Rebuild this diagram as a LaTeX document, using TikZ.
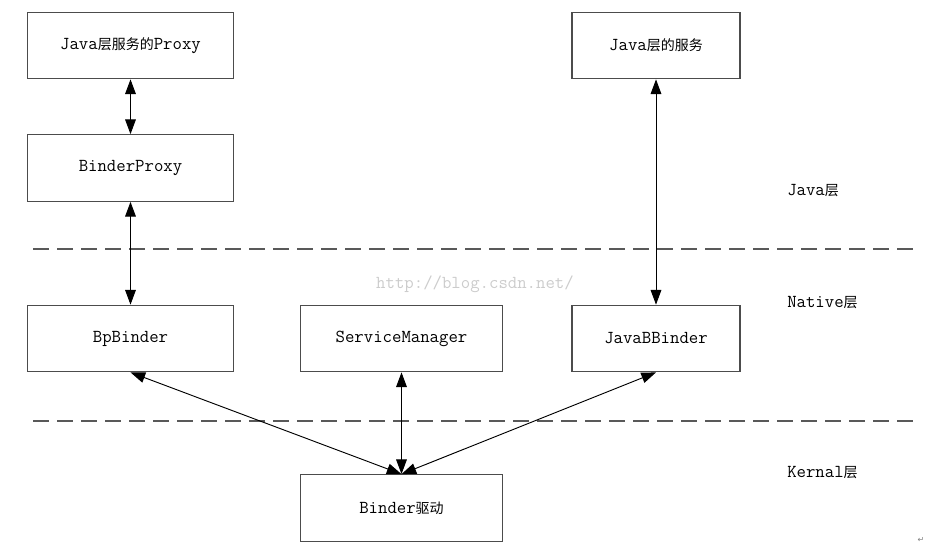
\documentclass[tikz,border=0pt]{standalone}
\usepackage{fontspec}
\newfontfamily\cjk{Noto Sans CJK SC}
\newfontfamily\symfont{DejaVu Sans}
\usetikzlibrary{arrows.meta}
\newcommand\zh[1]{{\cjk\fontsize{10.5pt}{12pt}\selectfont #1}}

\begin{document}
\begin{tikzpicture}[x=0.75pt,y=-0.75pt,
		box/.style={draw=black!70, line width=0.8pt, minimum height=50pt, inner sep=0pt,
			font=\ttfamily\fontsize{13.7pt}{15pt}\selectfont},
		link/.style={{Triangle[length=11pt,width=8pt]}-{Triangle[length=11pt,width=8pt]}, line width=0.7pt},
		layer/.style={anchor=west, inner sep=0pt, font=\ttfamily\fontsize{13.7pt}{15pt}\selectfont},
		sep/.style={draw=black!65, line width=0.8pt, dash pattern=on 12pt off 6pt}]
		\useasboundingbox (0,0) rectangle (932,547);
		% java layer
		\node[box, minimum width=154pt] (proxy) at (130.5,45.5) {Java\zh{层服务的}Proxy};
		\node[box, minimum width=154pt] (bproxy) at (130.5,168) {BinderProxy};
		\node[box, minimum width=126pt] (jservice) at (656,45.5) {Java\zh{层的服务}};
		% native layer
		\node[box, minimum width=154pt] (bpbinder) at (130.5,338.5) {BpBinder};
		\node[box, minimum width=152pt] (smgr) at (401.5,338.5) {ServiceManager};
		\node[box, minimum width=126pt] (jbbinder) at (656,338.5) {JavaBBinder};
		% kernel
		\node[box, minimum width=152pt] (driver) at (401.5,508) {Binder\zh{驱动}};
		
		\draw[sep] (33,249) -- (915,249);
		\draw[sep] (33,421) -- (915,421);
		
		\node[layer] (ljava) at (787,191) {Java\zh{层}};
		\node[layer] (lnative) at (787,303) {Native\zh{层}};
		\node[layer] (lkernel) at (787,473) {Kernal\zh{层}};
		
		\node[text=black!20, font=\ttfamily\fontsize{13.7pt}{15pt}\selectfont] (mark) at (475,284) {http://blog.csdn.net/};
		\node[text=black!50, font=\symfont\fontsize{6pt}{7pt}\selectfont] (ret) at (921,540) {↵};
		
		\draw[link] (proxy) -- (bproxy);
		\draw[link] (bproxy) -- (bpbinder);
		\draw[link] (jservice) -- (jbbinder);
		\draw[link] (bpbinder.south) -- (driver.north);
		\draw[link] (smgr) -- (driver);
		\draw[link] (jbbinder.south) -- (driver.north);
	\end{tikzpicture}
\end{document}
